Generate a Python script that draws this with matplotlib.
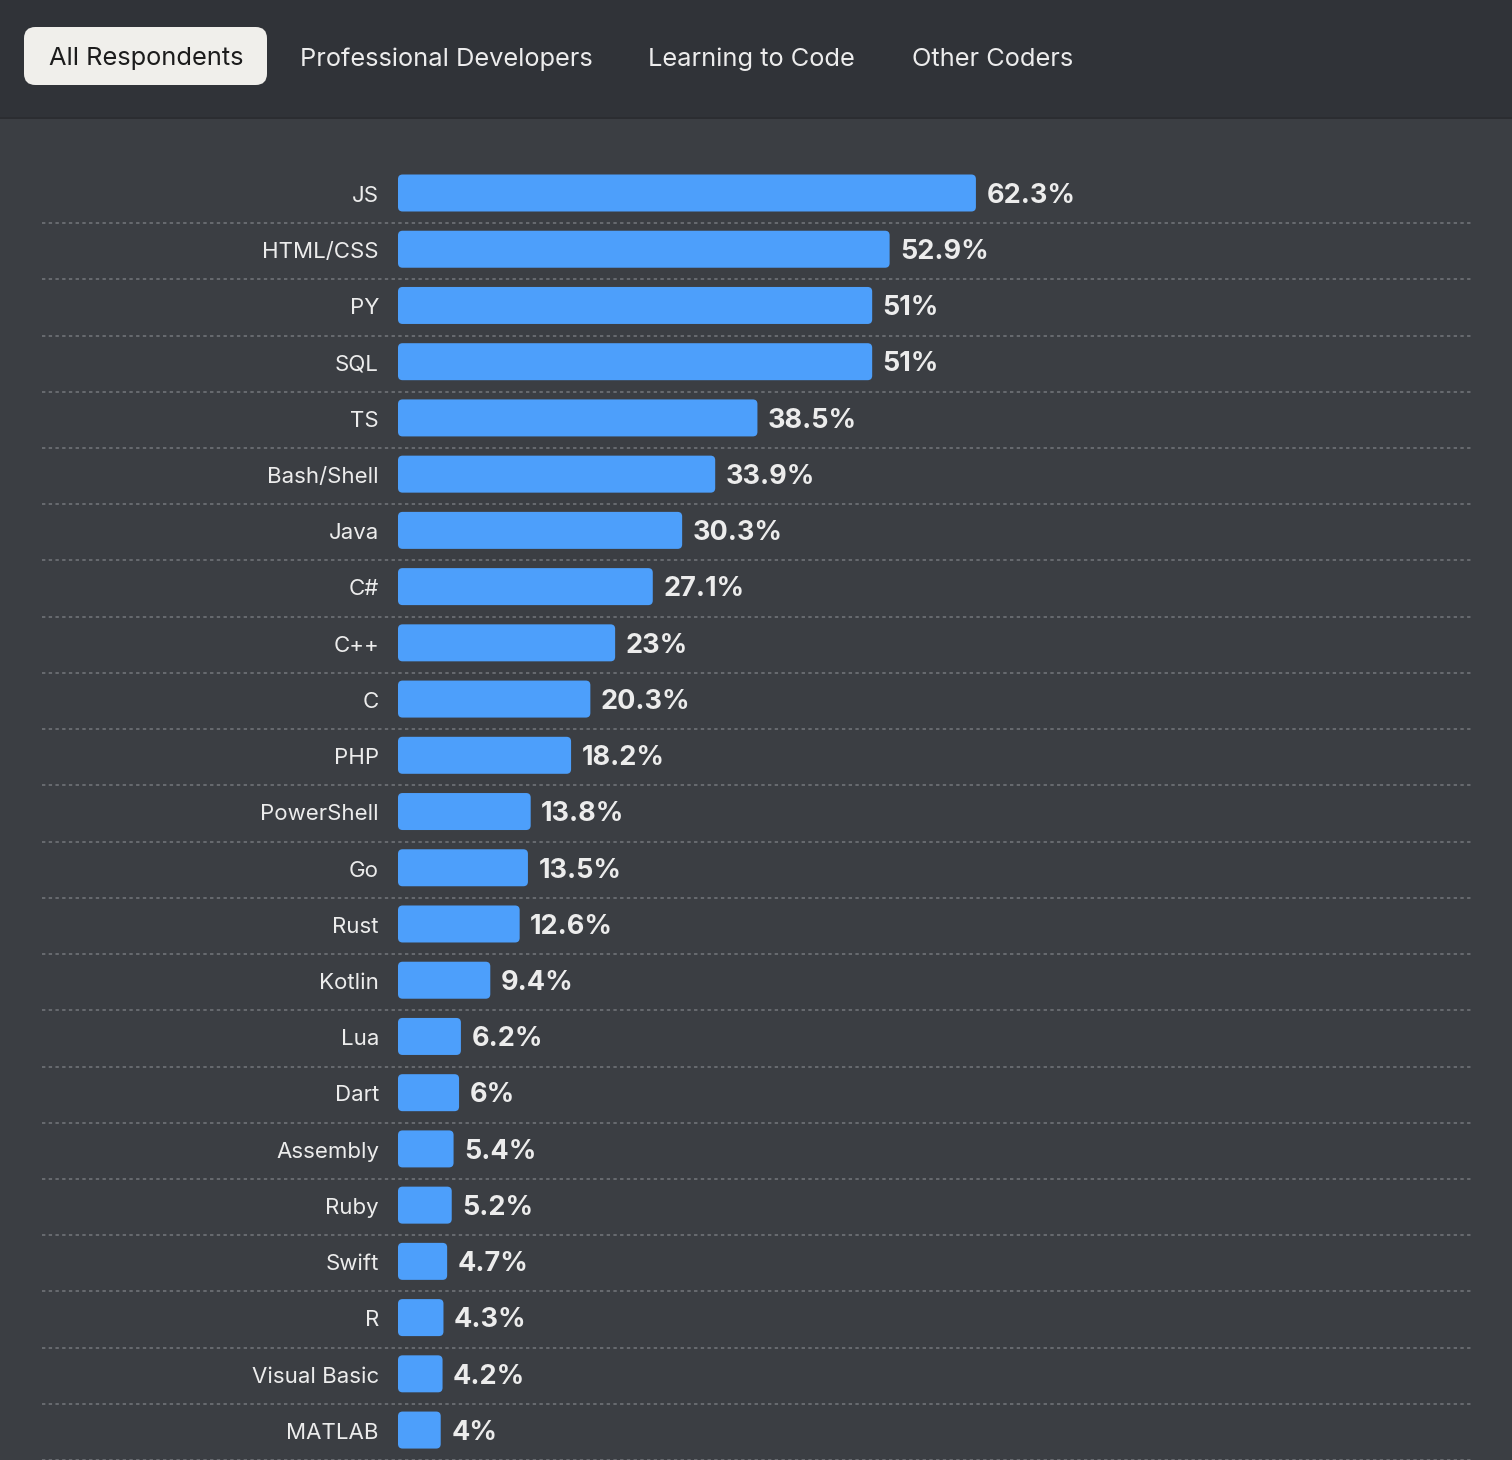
import matplotlib
matplotlib.use("Agg")
import matplotlib.pyplot as plt
from matplotlib.patches import FancyBboxPatch, Rectangle

plt.rcParams['font.family'] = ['Inter', 'DejaVu Sans']

# data
languages = ["JS", "HTML/CSS", "PY", "SQL", "TS", "Bash/Shell", "Java", "C#", "C++", "C",
             "PHP", "PowerShell", "Go", "Rust", "Kotlin", "Lua", "Dart", "Assembly", "Ruby",
             "Swift", "R", "Visual Basic", "MATLAB"]
shares = [62.3, 52.9, 51, 51, 38.5, 33.9, 30.3, 27.1, 23, 20.3,
          18.2, 13.8, 13.5, 12.6, 9.4, 6.2, 6, 5.4, 5.2,
          4.7, 4.3, 4.2, 4]
tabs = ["All Respondents", "Professional Developers", "Learning to Code", "Other Coders"]

W, H = 1512, 1460
HEADER_BG = "#303338"
BODY_BG = "#3b3e43"
BAR = "#4d9ffb"
TEXT = "#ececec"

fig = plt.figure(figsize=(W / 100, H / 100), dpi=100)
fig.patch.set_facecolor(BODY_BG)

# header band with tabs
fig.patches.append(Rectangle((0, 1 - 117 / H), 1, 117 / H, transform=fig.transFigure,
                             facecolor=HEADER_BG, edgecolor="none", zorder=0))
fig.patches.append(Rectangle((0, 1 - 119 / H), 1, 2 / H, transform=fig.transFigure,
                             facecolor="#2b2d31", edgecolor="none", zorder=0))
fig.patches.append(FancyBboxPatch((24 / W, 1 - 85 / H), 243 / W, 58 / H,
                                  boxstyle="round,pad=0,rounding_size=0.0075",
                                  mutation_aspect=W / H, transform=fig.transFigure,
                                  facecolor="#f0efeb", edgecolor="none", zorder=1))
tab_x = [146, 446, 751, 993]
for i, (t, x) in enumerate(zip(tabs, tab_x)):
    fig.text(x / W, 1 - 59 / H, t, ha="center", va="center", fontsize=18.3,
             color="#1c1c1c" if i == 0 else TEXT)

# chart axes: x=0 at px 404, 9.18 px per percent; row i centred at px 193 + 56.23*i
px_x = 9.18
px_y = 56.23
top_px = 120
ax = fig.add_axes([0, 0, 1, (H - top_px) / H])
ax.set_facecolor("none")
ax.set_xlim(-404 / px_x, (W - 404) / px_x)
ax.set_ylim((H - 193) / px_y, (top_px - 193) / px_y)
ax.axis("off")

bar_h = 37 / px_y
pad = 6 / px_x
for i, (lang, v) in enumerate(zip(languages, shares)):
    ax.add_patch(FancyBboxPatch((-pad, i - bar_h / 2), v + pad, bar_h,
                                boxstyle="round,pad=0,rounding_size=0.5",
                                mutation_aspect=px_x / px_y,
                                facecolor=BAR, edgecolor="none", zorder=3))
    ax.text(-25 / px_x, i + 0.05, lang, ha="right", va="center", fontsize=16, color=TEXT)
    ax.annotate(f"{v:g}%", (v, i), xytext=(7.5, -2), textcoords="offset points",
                ha="left", va="center", fontsize=19.5, fontweight="bold", color=TEXT)
    ax.axhline(i + 0.535, xmin=42 / W, xmax=1472 / W, color="#74777c", lw=1.1,
               ls=(0, (2.2, 2.2)), zorder=1)

fig.savefig("out.png", dpi=100, facecolor=fig.get_facecolor())
